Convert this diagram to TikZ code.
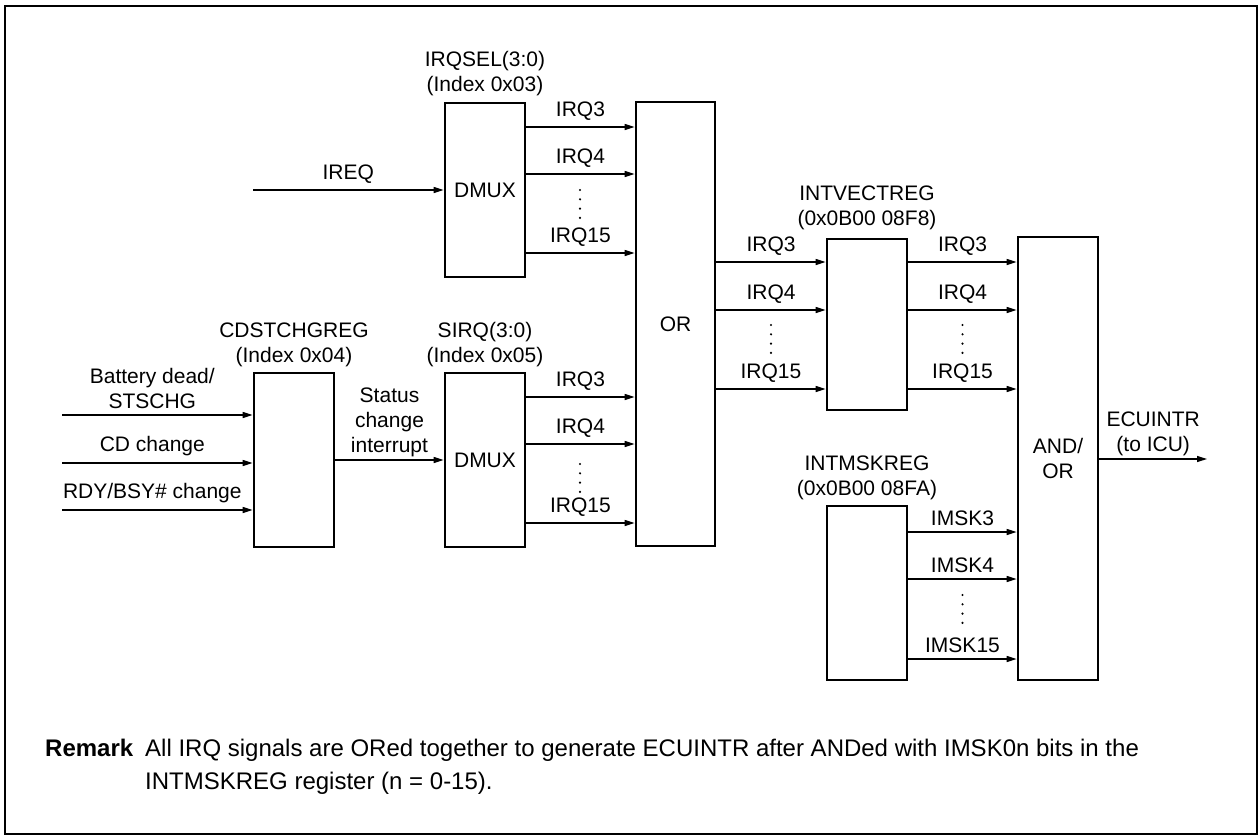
\documentclass[tikz,border=0pt]{standalone}
\usepackage{fontspec}
\setmainfont{Liberation Sans}
\usetikzlibrary{arrows.meta,positioning}
\newcommand\dotcolumn[2]{\foreach \k in {0,1,2,3}{\fill ({#1},{#2+9.3*\k}) circle (1.2pt);}}
\begin{document}
\begin{tikzpicture}[x=1pt,y=-1pt,
  every node/.style={font=\fontsize{21}{25}\selectfont, inner sep=0pt},
  box/.style={draw, line width=2.7pt, minimum width=80pt, align=center},
  arr/.style={line width=1.3pt, -{Triangle[length=10pt,width=6pt]}},
  sig/.style={midway, above=6pt, align=center},
  reglab/.style={align=center},
  remarkfont/.style={font=\fontsize{24}{28}\selectfont}
]
\useasboundingbox (0,0) rectangle (1259,835);
\draw[line width=2.5pt] (5,6) rectangle (1257,834);

% blocks
\node[box, minimum height=174pt] (cd) at (294,460) {};
\node[box, minimum height=174pt] (d1) at (485,190) {DMUX};
\node[box, minimum height=174pt] (d2) at (485,460) {DMUX};
\node[box, minimum width=79pt, minimum height=444pt] (orb) at (675.5,324) {OR};
\node[box, minimum height=171pt] (iv) at (867,324.5) {};
\node[box, minimum height=174pt] (im) at (867,593) {};
\node[box, minimum height=443pt] (ao) at (1058,458.5) {AND/\\OR};

% register labels
\node[reglab, above=6pt of d1.north] (d1lab) {IRQSEL(3:0)\\(Index 0x03)};
\node[reglab, above=5pt of cd.north] (cdlab) {CDSTCHGREG\\(Index 0x04)};
\node[reglab, above=5pt of d2.north] (d2lab) {SIRQ(3:0)\\(Index 0x05)};
\node[reglab, above=8pt of iv.north] (ivlab) {INTVECTREG\\(0x0B00 08F8)};
\node[reglab, above=5pt of im.north] (imlab) {INTMSKREG\\(0x0B00 08FA)};

% free ends
\coordinate (ireq) at (253,190);
\coordinate (in1) at (62,415);
\coordinate (in2) at (62,463);
\coordinate (in3) at (62,510);
\coordinate (ecu) at (1207,459);

% inputs
\draw[arr] (ireq) -- node[sig]{IREQ} (d1.west |- ireq);
\draw[arr] (in1) -- node[sig, xshift=-5pt]{Battery dead/\\STSCHG} (cd.west |- in1);
\draw[arr] (in2) -- node[sig, xshift=-5pt]{CD change} (cd.west |- in2);
\draw[arr] (in3) -- node[sig, xshift=-5pt]{RDY/BSY\# change} (cd.west |- in3);
\draw[arr] (cd.east) -- node[midway, above=2pt, align=center]{Status\\change\\interrupt} (d2.west);

% DMUX1 -> OR
\draw[arr] (d1.east |- 0,127) -- node[sig]{IRQ3} (orb.west |- 0,127);
\draw[arr] (d1.east |- 0,174) -- node[sig]{IRQ4} (orb.west |- 0,174);
\draw[arr] (d1.east |- 0,253) -- node[sig]{IRQ15} (orb.west |- 0,253);
\dotcolumn{580}{190}

% DMUX2 -> OR
\draw[arr] (d2.east |- 0,397) -- node[sig]{IRQ3} (orb.west |- 0,397);
\draw[arr] (d2.east |- 0,444) -- node[sig]{IRQ4} (orb.west |- 0,444);
\draw[arr] (d2.east |- 0,523) -- node[sig]{IRQ15} (orb.west |- 0,523);
\dotcolumn{580}{464}

% OR -> INTVECTREG
\draw[arr] (orb.east |- 0,262) -- node[sig]{IRQ3} (iv.west |- 0,262);
\draw[arr] (orb.east |- 0,310) -- node[sig]{IRQ4} (iv.west |- 0,310);
\draw[arr] (orb.east |- 0,389) -- node[sig]{IRQ15} (iv.west |- 0,389);
\dotcolumn{771}{325}

% INTVECTREG -> AND/OR
\draw[arr] (iv.east |- 0,262) -- node[sig]{IRQ3} (ao.west |- 0,262);
\draw[arr] (iv.east |- 0,310) -- node[sig]{IRQ4} (ao.west |- 0,310);
\draw[arr] (iv.east |- 0,389) -- node[sig]{IRQ15} (ao.west |- 0,389);
\dotcolumn{962.5}{325}

% INTMSKREG -> AND/OR
\draw[arr] (im.east |- 0,532) -- node[sig]{IMSK3} (ao.west |- 0,532);
\draw[arr] (im.east |- 0,579) -- node[sig]{IMSK4} (ao.west |- 0,579);
\draw[arr] (im.east |- 0,659) -- node[sig]{IMSK15} (ao.west |- 0,659);
\dotcolumn{962.5}{595}

% output
\draw[arr] (ao.east |- ecu) -- node[midway, above=3pt, align=center]{ECUINTR\\(to ICU)} (ecu);

% remark
\node[remarkfont, anchor=base west, font=\fontsize{24}{28}\selectfont\bfseries] (rmk) at (45,756) {Remark};
\node[remarkfont, anchor=base west] (rmk1) at (145,756) {All IRQ signals are ORed together to generate ECUINTR after ANDed with IMSK0n bits in the};
\node[remarkfont, anchor=base west] (rmk2) at (145,789) {INTMSKREG register (n = 0-15).};
\end{tikzpicture}
\end{document}
